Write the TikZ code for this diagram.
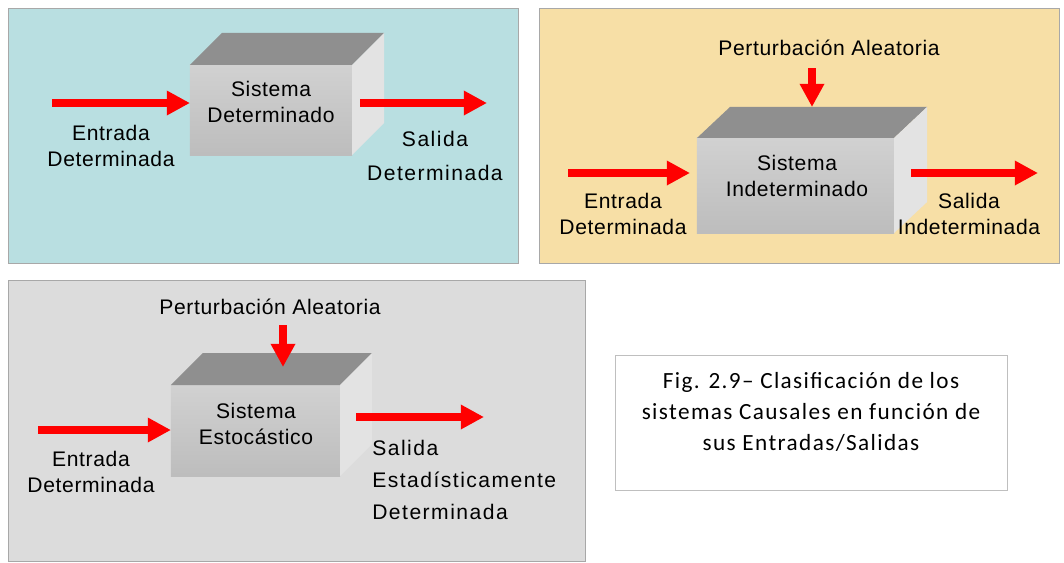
\documentclass[tikz,border=0pt]{standalone}
\usepackage{fontspec}
\setmainfont{Liberation Sans}[LetterSpace=3]
\newfontfamily\espaciada{Liberation Sans}[LetterSpace=7]
\newfontfamily\calibri{Carlito}[LetterSpace=6]
\usepackage{tikz}
\usetikzlibrary{arrows.meta}
\definecolor{fondoazul}{HTML}{B9DFE1}
\definecolor{fondoocre}{HTML}{F7DFA6}
\definecolor{fondogris}{HTML}{DCDCDC}
\definecolor{borde}{HTML}{A8A8A8}
\tikzstyle{panel} = [draw=borde, line width=0.6pt]
\tikzstyle{frente} = [rectangle, inner sep=0pt, outer sep=0pt, top color=black!18, bottom color=black!26]
\tikzstyle{tapa} = [fill=black!44]
\tikzstyle{lado} = [fill=black!11]
\tikzstyle{texto} = [align=center, inner sep=0pt, font=\fontsize{15}{19}\selectfont]
\tikzstyle{pie} = [align=center, inner sep=0pt, font=\calibri\fontsize{16.5}{22.3}\selectfont]
\tikzstyle{flecha} = [red, line width=0.19cm, -{Triangle[length=0.58cm,width=0.58cm]}]

\begin{document}
\begin{tikzpicture}[x=0.025cm, y=-0.025cm]
\useasboundingbox (0,0) rectangle (1064,562);
\draw [panel, fill=fondoazul] (8,8) rectangle (518,263);
\draw [panel, fill=fondoocre] (539,8) rectangle (1059,263);
\draw [panel, fill=fondogris] (8,280) rectangle (585,561);
\draw [panel, draw=black!25, fill=white] (615,355) rectangle (1007,490);

\node (sis1) [frente, minimum width=4.05cm, minimum height=2.25cm] at (271,110) {};
\fill [tapa] (sis1.north west) -- ++(32,-32) -- ([shift={(32,-32)}]sis1.north east) -- (sis1.north east) -- cycle;
\fill [lado] (sis1.north east) -- ++(32,-32) -- ([shift={(32,-32)}]sis1.south east) -- (sis1.south east) -- cycle;
\node (txt1) [texto, font=\fontsize{15}{18}\selectfont] at (271,102) {Sistema\\Determinado};
\node (ent1) [texto] at (111,146) {Entrada\\Determinada};
\node (sal1) [texto, font=\espaciada\fontsize{15}{24}\selectfont] at (435,156) {Salida\\Determinada};
\coordinate (e1) at (52,103);
\coordinate (s1a) at (360,103);
\coordinate (s1b) at (487,103);
\draw [flecha] (e1) -- (e1 -| sis1.west);
\draw [flecha] (s1a) -- (s1b);

\node (sis2) [frente, minimum width=4.925cm, minimum height=2.375cm] at (795.5,185.5) {};
\fill [tapa] (sis2.north west) -- ++(33,-31) -- ([shift={(33,-31)}]sis2.north east) -- (sis2.north east) -- cycle;
\fill [lado] (sis2.north east) -- ++(33,-31) -- ([shift={(33,-31)}]sis2.south east) -- (sis2.south east) -- cycle;
\node (txt2) [texto, font=\fontsize{15}{18}\selectfont] at (797,176) {Sistema\\Indeterminado};
\node (per2) [texto] at (829,48) {Perturbación Aleatoria};
\node (ent2) [texto, font=\fontsize{15}{18}\selectfont] at (623,214) {Entrada\\Determinada};
\node (sal2) [texto, font=\fontsize{15}{18}\selectfont] at (969,214) {Salida\\Indeterminada};
\coordinate (p2a) at (812,68);
\coordinate (p2b) at (812,107);
\coordinate (e2a) at (568,173);
\coordinate (e2b) at (690,173);
\coordinate (s2a) at (911,173);
\coordinate (s2b) at (1038,173);
\draw [flecha] (p2a) -- (p2b);
\draw [flecha] (e2a) -- (e2b);
\draw [flecha] (s2a) -- (s2b);

\node (sis3) [frente, minimum width=4.225cm, minimum height=2.275cm] at (255.5,430.5) {};
\fill [tapa] (sis3.north west) -- ++(32,-32) -- ([shift={(32,-32)}]sis3.north east) -- (sis3.north east) -- cycle;
\fill [lado] (sis3.north east) -- ++(32,-32) -- ([shift={(32,-32)}]sis3.south east) -- (sis3.south east) -- cycle;
\node (txt3) [texto, font=\fontsize{15}{18.5}\selectfont] at (256,424) {Sistema\\Estocástico};
\node (per3) [texto] at (270,307) {Perturbación Aleatoria};
\node (ent3) [texto, font=\fontsize{15}{18.5}\selectfont] at (91,472) {Entrada\\Determinada};
\node (sal3) [texto, align=left, anchor=west, font=\espaciada\fontsize{15}{23}\selectfont] at (372,480) {Salida\\Estadísticamente\\Determinada};
\coordinate (p3a) at (283,325);
\coordinate (p3b) at (283,367);
\coordinate (e3a) at (38,430);
\coordinate (s3a) at (356,417);
\coordinate (s3b) at (484,417);
\draw [flecha] (p3a) -- (p3b);
\draw [flecha] (e3a) -- (e3a -| sis3.west);
\draw [flecha] (s3a) -- (s3b);

\node (cap) [pie] at (811,412) {Fig. 2.9– Clasificación de los\\sistemas Causales en función de\\sus Entradas/Salidas};
\end{tikzpicture}
\end{document}
